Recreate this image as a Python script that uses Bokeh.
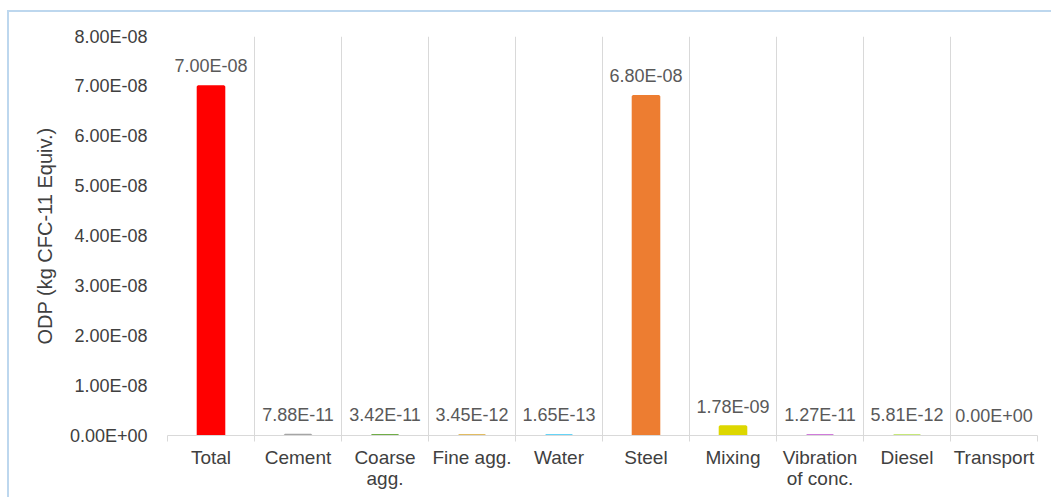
from bokeh.plotting import figure
from bokeh.models import ColumnDataSource, FixedTicker, CustomJSTickFormatter, Range1d
from bokeh.core.properties import value
from bokeh.embed import file_html
from bokeh.resources import INLINE

# Ozone depletion potential by process stage
categories = ["Total", "Cement", "Coarse\nagg.", "Fine agg.", "Water", "Steel",
              "Mixing", "Vibration\nof conc.", "Diesel", "Transport"]
odp = [7.00e-08, 7.88e-11, 3.42e-11, 3.45e-12, 1.65e-13, 6.80e-08,
       1.78e-09, 1.27e-11, 5.81e-12, 0.00e+00]
colors = ["#FF0000", "#A5A5A5", "#70AD47", "#D9A62E", "#33C6F5", "#ED7D31",
          "#DDD700", "#C04FCF", "#B3E04E", "#FFFFFF"]
y_ticks = [0, 1e-08, 2e-08, 3e-08, 4e-08, 5e-08, 6e-08, 7e-08, 8e-08]


def sci(v):
    m, e = f"{v:.2E}".split("E")
    return f"{m}E{e[0]}{e[1:].zfill(2)}"


FONT = "Liberation Sans"
xs = list(range(len(categories)))
source = ColumnDataSource(dict(
    x=xs,
    top=odp,
    color=colors,
    edge=[0.0 if v == 0 else 1.0 for v in odp],
    label=[sci(v) for v in odp],
))

p = figure(width=1044, height=487, output_backend="svg", toolbar_location=None,
           x_range=Range1d(-0.5, len(categories) - 0.5),
           y_range=Range1d(0, 8e-08),
           min_border_left=158, min_border_right=16,
           min_border_top=24, min_border_bottom=64,
           margin=(10, 0, 0, 7),
           styles={"border-top": "2px solid #BDD7EE",
                   "border-left": "2px solid #BDD7EE"})
p.outline_line_color = None
p.background_fill_color = "white"
p.border_fill_color = "white"

# bars; the outline keeps the very small values visible as a thin line
p.vbar(x="x", top="top", width=0.3, source=source, fill_color="color",
       line_color="color", line_alpha="edge", line_width=2.5)

p.text(x="x", y="top", text="label", source=source, y_offset=-10,
       text_align="center", text_baseline="bottom",
       text_font=value(FONT), text_font_size="18px", text_color="#595959")

boundaries = [i - 0.5 for i in range(len(categories) + 1)]

# x axis: labels at centres, ticks and grid at category boundaries
p.xaxis.ticker = FixedTicker(ticks=xs, minor_ticks=boundaries)
p.xaxis.major_label_overrides = {i: c for i, c in enumerate(categories)}
p.xaxis.major_tick_line_color = None
p.xaxis.minor_tick_line_color = "#D9D9D9"
p.xaxis.minor_tick_out = 6
p.xaxis.minor_tick_in = 0
p.xaxis.axis_line_color = "#D9D9D9"
p.xaxis.axis_line_width = 1
p.xaxis.major_label_standoff = 5
p.xaxis.major_label_text_font = FONT
p.xaxis.major_label_text_font_size = "19px"
p.xaxis.major_label_text_color = "#404040"
p.xaxis.major_label_text_line_height = 1.0

p.xgrid.ticker = FixedTicker(ticks=boundaries)
p.xgrid.grid_line_color = "#D9D9D9"
p.ygrid.grid_line_color = None

# y axis with scientific labels
p.yaxis.ticker = FixedTicker(ticks=y_ticks)
p.yaxis.formatter = CustomJSTickFormatter(code="""
    const s = tick.toExponential(2).toUpperCase();
    const parts = s.split("E");
    const e = parts[1];
    return parts[0] + "E" + e[0] + e.slice(1).padStart(2, "0");
""")
p.yaxis.axis_line_color = None
p.yaxis.major_tick_line_color = None
p.yaxis.minor_tick_line_color = None
p.yaxis.major_label_standoff = 14
p.yaxis.major_label_text_font = FONT
p.yaxis.major_label_text_font_size = "18px"
p.yaxis.major_label_text_color = "#404040"
p.yaxis.axis_label = "ODP (kg CFC-11 Equiv.)"
p.yaxis.axis_label_text_font = FONT
p.yaxis.axis_label_text_font_style = "normal"
p.yaxis.axis_label_text_font_size = "20px"
p.yaxis.axis_label_text_color = "#404040"
p.yaxis.axis_label_standoff = 11

open("out.html", "w").write(file_html(p, INLINE))
